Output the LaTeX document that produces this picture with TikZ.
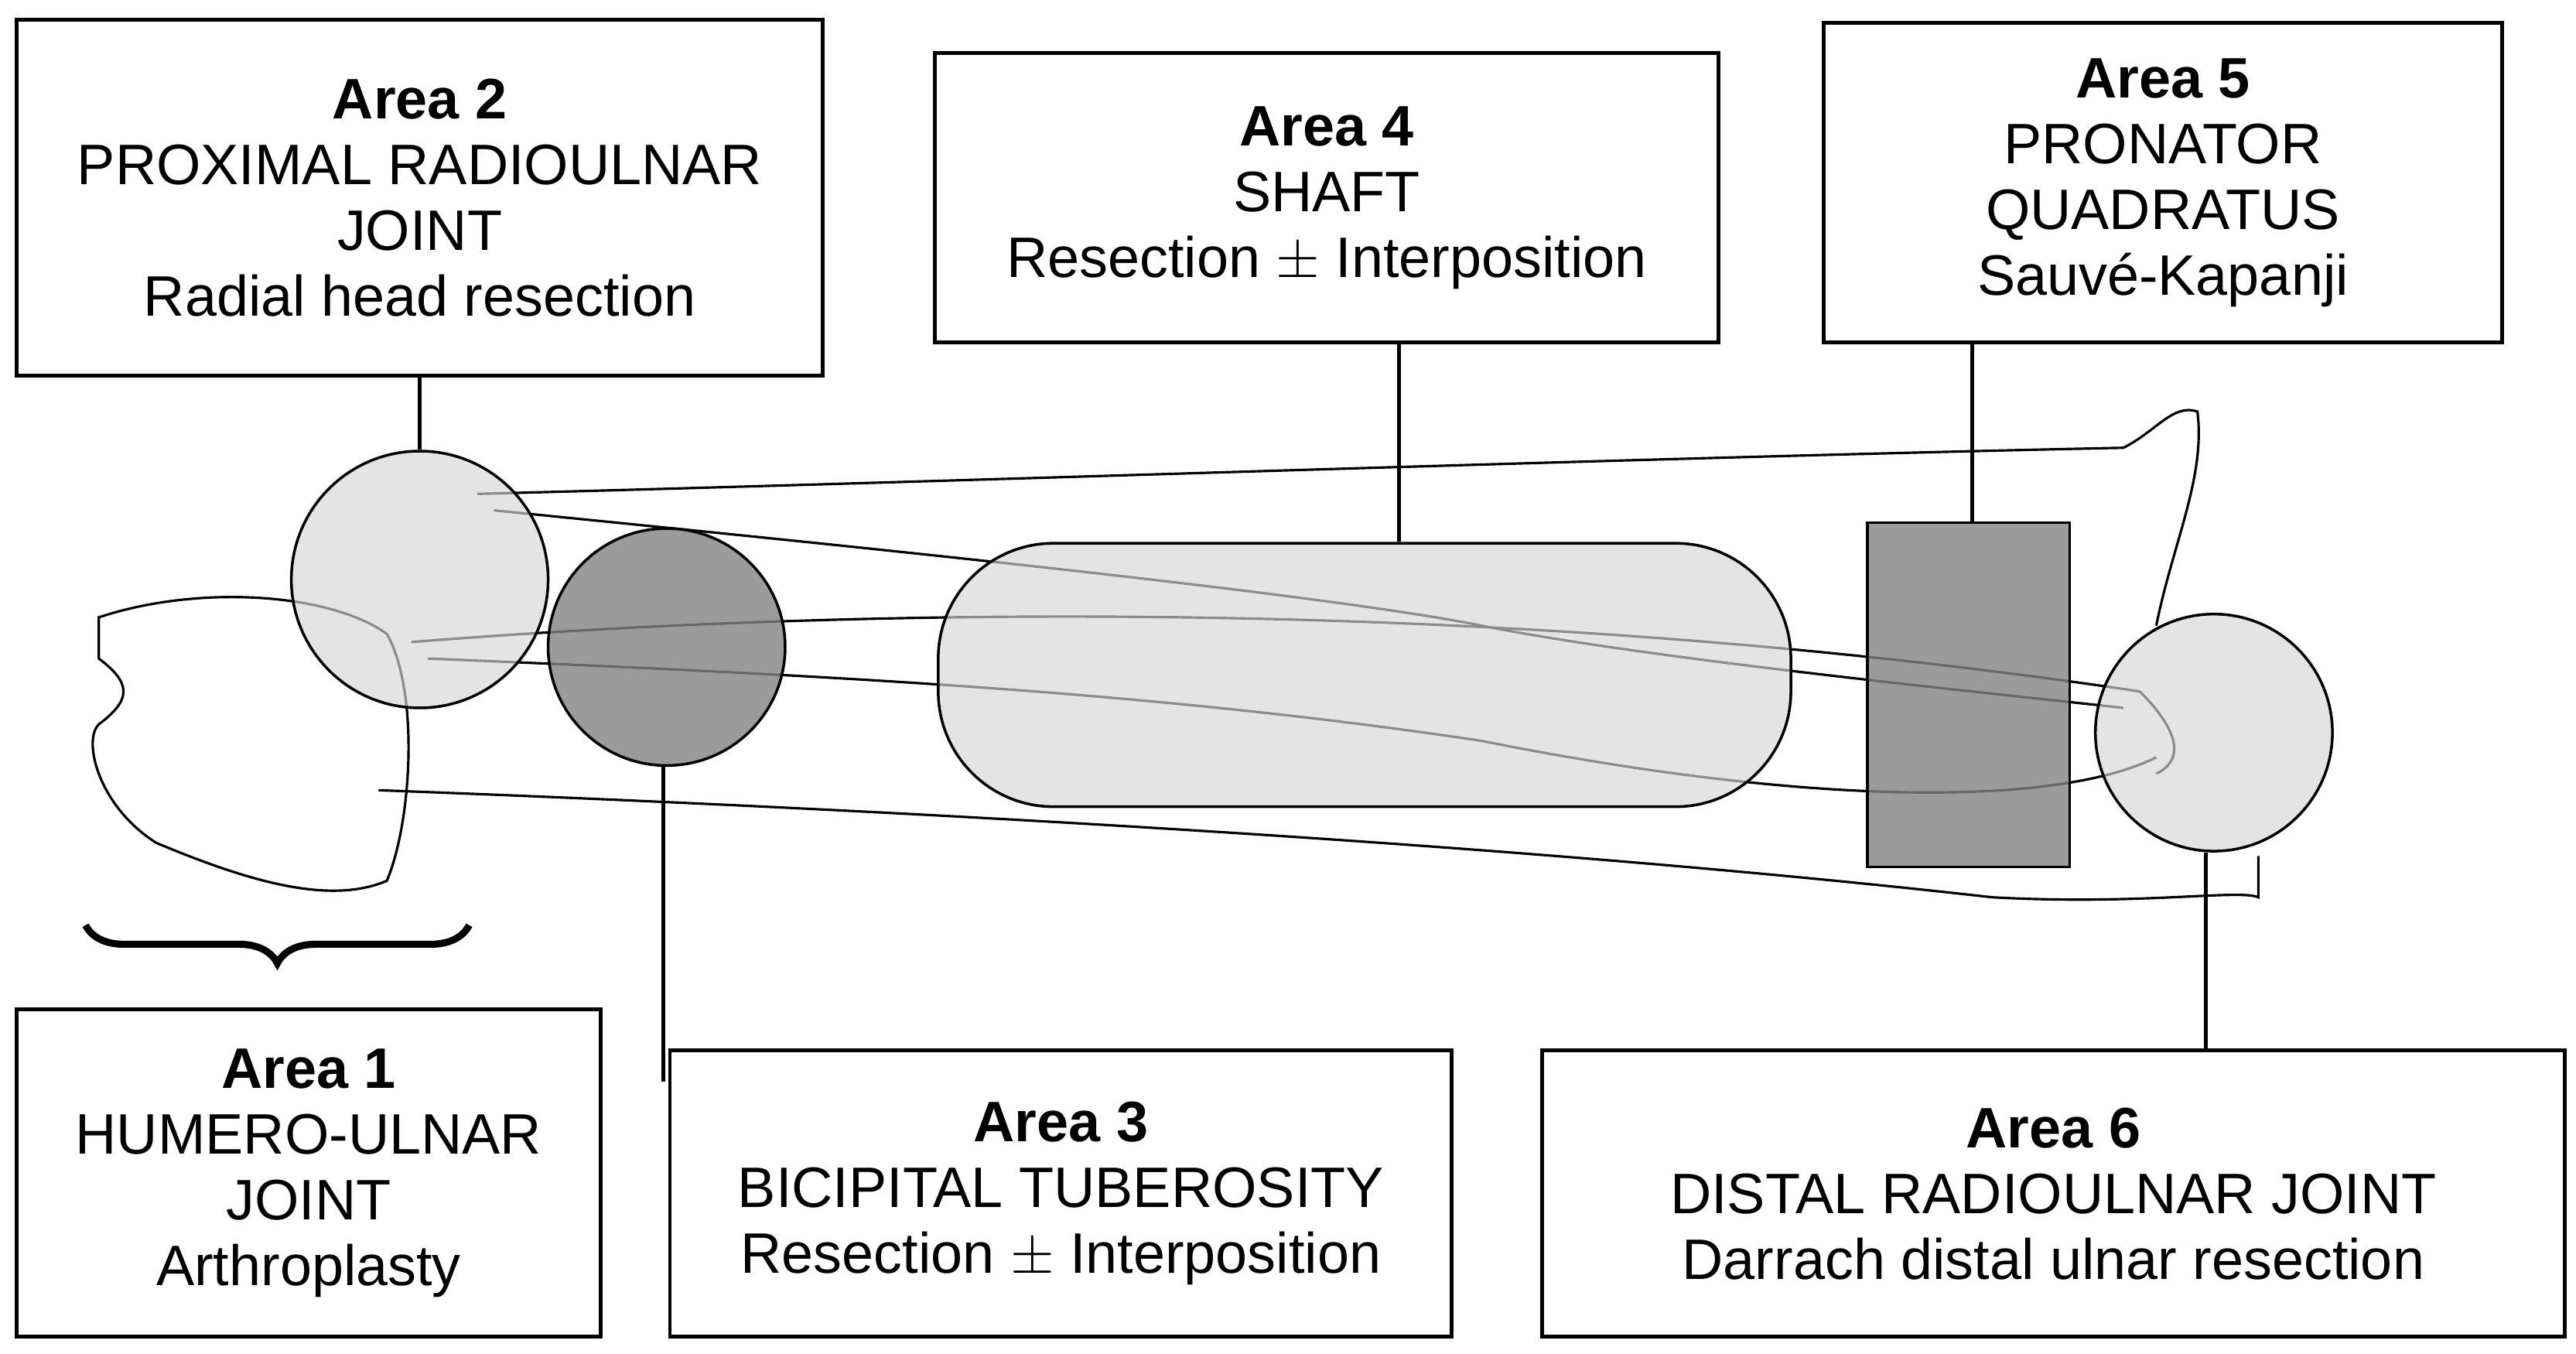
\documentclass[tikz,border=0pt]{standalone}
\usepackage{fontspec}
\setmainfont{Liberation Sans}
\usetikzlibrary{positioning,decorations.pathreplacing,calc}
\newcommand\pu{0.02128cm}
\definecolor{lightzone}{RGB}{214,214,214}
\definecolor{darkzone}{RGB}{130,130,130}

\begin{document}
\begin{tikzpicture}[
    x=0.02128cm, y=-0.02128cm,
    areabox/.style={draw, line width=1.4pt, align=center, inner sep=0pt,
        font=\fontsize{21}{24.2}\selectfont},
    bone/.style={draw, line width=0.9pt},
    light/.style={draw, line width=1pt, fill=lightzone, fill opacity=0.65},
    dark/.style={draw, line width=1pt, fill=darkzone, fill opacity=0.8},
    leader/.style={line width=1.4pt}
]
    \useasboundingbox (0,0) rectangle (1565,822);
    % bones
    \draw[bone] (290,300) .. controls (600,292) and (1000,278) .. (1290,272)
        .. controls (1310,262) and (1320,245) .. (1335,250)
        .. controls (1340,290) and (1320,330) .. (1310,380);
    \draw[bone] (230,480) .. controls (500,490) and (900,510) .. (1210,545)
        .. controls (1300,550) and (1360,540) .. (1372,545) -- (1372,520);
    \draw[bone] (60,375) .. controls (120,355) and (200,360) .. (235,385)
        .. controls (255,420) and (250,500) .. (235,535)
        .. controls (200,550) and (150,535) .. (95,512)
        .. controls (60,490) and (50,450) .. (60,440)
        .. controls (80,425) and (80,415) .. (60,400) -- cycle;
    \draw[bone] (250,390) .. controls (500,370) and (900,360) .. (1300,420)
        .. controls (1320,440) and (1330,460) .. (1310,470);
    \draw[bone] (260,400) .. controls (500,410) and (700,420) .. (900,450)
        .. controls (1100,490) and (1250,490) .. (1310,460);
    \draw[bone] (300,310) .. controls (500,330) and (800,360) .. (900,380)
        .. controls (1000,400) and (1200,420) .. (1290,430);
    % zones
    \node[light, circle, minimum size={156*\pu}] (c2) at (255,352) {};
    \node[dark, circle, minimum size={144*\pu}] (c3) at (405,393) {};
    \node[light, rounded corners={70*\pu}, minimum width={518*\pu}, minimum height={160*\pu}] (shaft) at (829,410) {};
    \node[dark, minimum width={123*\pu}, minimum height={209*\pu}] (pq) at (1196,422) {};
    \node[light, circle, minimum size={144*\pu}] (c6) at (1345,445) {};
    % brace
    \draw[decorate, decoration={brace, mirror, amplitude=14pt}, line width=2.6pt]
        (52,562) -- (285,562);
    % boxes
    \node[areabox, minimum width={490*\pu}, minimum height={216*\pu}] (box2) at (255,120)
        {\textbf{Area 2}\\PROXIMAL RADIOULNAR\\JOINT\\Radial head resection};
    \node[areabox, minimum width={476*\pu}, minimum height={176*\pu}] (box4) at (806,120)
        {\textbf{Area 4}\\SHAFT\\Resection $\pm$ Interposition};
    \node[areabox, minimum width={412*\pu}, minimum height={194*\pu}] (box5) at (1314,111)
        {\textbf{Area 5}\\PRONATOR\\QUADRATUS\\Sauvé-Kapanji};
    \node[areabox, minimum width={355*\pu}, minimum height={199*\pu}] (box1) at (187.5,712.5)
        {\textbf{Area 1}\\HUMERO-ULNAR\\JOINT\\Arthroplasty};
    \node[areabox, minimum width={475*\pu}, minimum height={174*\pu}] (box3) at (644.5,725)
        {\textbf{Area 3}\\BICIPITAL TUBEROSITY\\Resection $\pm$ Interposition};
    \node[areabox, minimum width={621*\pu}, minimum height={174*\pu}] (box6) at (1247.5,725)
        {\textbf{Area 6}\\DISTAL RADIOULNAR JOINT\\Darrach distal ulnar resection};
    % leaders
    \coordinate (end3) at (403,657);
    \draw[leader] (box2.south) -- (c2.north);
    \draw[leader] (box4.south -| 850,0) -- (shaft.north -| 850,0);
    \draw[leader] (box5.south -| 1198,0) -- (pq.north -| 1198,0);
    \draw[leader] (c3.south -| end3) -- (end3);
    \draw[leader] (c6.south -| 1340,0) -- (box6.north -| 1340,0);
\end{tikzpicture}
\end{document}
